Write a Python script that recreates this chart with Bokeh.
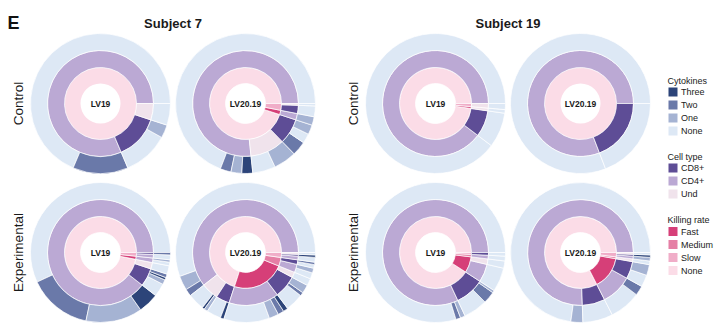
import math
from bokeh.plotting import figure
from bokeh.models import Range1d, ColumnDataSource
from bokeh.embed import file_html
from bokeh.resources import INLINE
from bokeh.core.properties import value

W, H = 720, 332
FONT = "Liberation Sans"

# ---------------- categories & colours ----------------
CYTO_LEVELS = ["Three", "Two", "One", "None"]
CYTO_COLORS = ["#2c4479", "#6a79a9", "#a5b3d3", "#dde8f5"]
CELL_LEVELS = ["CD8+", "CD4+", "Und"]
CELL_COLORS = ["#5e4d96", "#bba9d4", "#f0e3ec"]
KILL_LEVELS = ["Fast", "Medium", "Slow", "None"]
KILL_COLORS = ["#d63f78", "#e57fa5", "#f0adc8", "#fbdce7"]

SUBJECTS = ["Subject 7", "Subject 19"]
CONDITIONS = ["Control", "Experimental"]
VECTORS = ["LV19", "LV20.19"]

# ---------------- data: (killing rate, cell type, cytokines, share) ----------------
S7_CTRL_LV19 = [
    ("None", "CD4+", "None", 247), ("None", "CD4+", "Two", 46),
    ("None", "CD8+", "None", 38), ("None", "CD8+", "One", 11),
    ("None", "Und", "None", 18),
]
S7_CTRL_LV2019 = [
    ("None", "CD4+", "None", 249), ("None", "CD4+", "Two", 9),
    ("None", "CD4+", "One", 9), ("None", "CD4+", "Three", 9),
    ("None", "Und", "None", 19), ("None", "Und", "One", 19),
    ("None", "CD8+", "Two", 12), ("None", "CD8+", "None", 8),
    ("None", "CD8+", "One", 8), ("Fast", "CD4+", "One", 7),
    ("Slow", "CD8+", "None", 9), ("Slow", "Und", "None", 2),
]
S7_EXP_LV19 = [
    ("None", "CD4+", "None", 205), ("None", "CD4+", "Two", 53),
    ("None", "CD4+", "One", 47), ("None", "CD4+", "Three", 17),
    ("None", "CD8+", "None", 11), ("None", "CD8+", "One", 4),
    ("None", "CD8+", "Three", 2), ("None", "CD8+", "Two", 3),
    ("None", "Und", "None", 7), ("Fast", "CD4+", "None", 3),
    ("Fast", "CD4+", "One", 2), ("Slow", "CD4+", "None", 4),
    ("Slow", "CD8+", "Two", 2),
]
S7_EXP_LV2019 = [
    ("None", "CD4+", "None", 200), ("None", "CD4+", "One", 12),
    ("None", "CD4+", "Two", 6), ("None", "Und", "None", 14),
    ("None", "Und", "Three", 2), ("None", "Und", "One", 3),
    ("None", "CD8+", "None", 12), ("None", "CD8+", "Three", 3),
    ("Fast", "CD4+", "None", 38), ("Fast", "CD4+", "One", 8),
    ("Fast", "CD4+", "Two", 5), ("Fast", "CD4+", "Three", 4),
    ("Fast", "CD8+", "None", 15), ("Fast", "CD8+", "Two", 3),
    ("Fast", "CD8+", "One", 7), ("Fast", "Und", "None", 6),
    ("Medium", "CD4+", "None", 5), ("Medium", "CD4+", "One", 4),
    ("Medium", "CD8+", "None", 3), ("Medium", "CD8+", "Two", 2),
    ("Slow", "CD4+", "None", 4), ("Slow", "CD8+", "Three", 2),
    ("Slow", "Und", "None", 2),
]
S19_CTRL_LV19 = [
    ("None", "CD4+", "None", 323), ("None", "CD8+", "None", 29),
    ("Fast", "Und", "None", 3), ("Slow", "Und", "None", 5),
]
S19_CTRL_LV2019 = [
    ("None", "CD4+", "None", 291), ("None", "CD8+", "None", 69),
]
S19_EXP_LV19 = [
    ("None", "CD4+", "None", 287), ("None", "CD4+", "Two", 4),
    ("None", "CD4+", "One", 4), ("None", "CD8+", "None", 20),
    ("None", "CD8+", "Two", 10), ("None", "CD8+", "One", 2),
    ("Fast", "CD4+", "None", 20), ("Fast", "Und", "None", 6),
    ("Medium", "CD4+", "None", 4), ("Slow", "CD8+", "None", 3),
]
S19_EXP_LV2019 = [
    ("None", "CD4+", "None", 262), ("None", "CD4+", "One", 10),
    ("None", "CD8+", "None", 25), ("Fast", "CD4+", "None", 26),
    ("Fast", "CD4+", "Two", 8), ("Fast", "CD8+", "None", 10),
    ("Fast", "CD8+", "One", 9), ("Medium", "Und", "None", 3),
    ("Slow", "CD4+", "One", 3), ("Slow", "CD8+", "Three", 2),
    ("Slow", "Und", "None", 2),
]

PANELS = {
    ("Subject 7", "Control", "LV19"): S7_CTRL_LV19,
    ("Subject 7", "Control", "LV20.19"): S7_CTRL_LV2019,
    ("Subject 7", "Experimental", "LV19"): S7_EXP_LV19,
    ("Subject 7", "Experimental", "LV20.19"): S7_EXP_LV2019,
    ("Subject 19", "Control", "LV19"): S19_CTRL_LV19,
    ("Subject 19", "Control", "LV20.19"): S19_CTRL_LV2019,
    ("Subject 19", "Experimental", "LV19"): S19_EXP_LV19,
    ("Subject 19", "Experimental", "LV20.19"): S19_EXP_LV2019,
}

# ---------------- layout ----------------
SUBJ_X0 = {"Subject 7": 100, "Subject 19": 435}
PIE_DX = 145
ROW_Y = {"Control": H - 103, "Experimental": H - 252}
RADII = [20, 36, 53, 70]

kill_col = dict(zip(KILL_LEVELS, KILL_COLORS))
cell_col = dict(zip(CELL_LEVELS, CELL_COLORS))
cyto_col = dict(zip(CYTO_LEVELS, CYTO_COLORS))

p = figure(width=W, height=H, x_range=Range1d(0, W), y_range=Range1d(0, H),
           output_backend="svg", toolbar_location=None, min_border=0,
           x_axis_type=None, y_axis_type=None)
p.grid.visible = False
p.outline_line_color = None
p.background_fill_color = "white"


def grouped(leaves, spans, keyfn):
    out = []
    for lf, (a0, a1) in zip(leaves, spans):
        k = keyfn(lf)
        if out and out[-1][0] == k:
            out[-1][2] = a1
        else:
            out.append([k, a0, a1])
    return out


def draw_pie(cx, cy, leaves):
    total = float(sum(l[3] for l in leaves))
    spans, a = [], 0.0
    for lf in leaves:
        a0 = a
        a += lf[3] / total * 2 * math.pi
        spans.append((a0, a))
    rings = [
        (grouped(leaves, spans, lambda l: l[0]), lambda k: kill_col[k]),
        (grouped(leaves, spans, lambda l: (l[0], l[1])), lambda k: cell_col[k[1]]),
        (grouped(leaves, spans, lambda l: (l[0], l[1], l[2])), lambda k: cyto_col[k[2]]),
    ]
    for i, (segs, colfn) in enumerate(rings):
        r0, r1 = RADII[i], RADII[i + 1]
        data = dict(x=[], y=[], s=[], e=[], c=[])
        for k, a0, a1 in segs:
            if a1 - a0 > 2 * math.pi - 1e-3:
                p.annulus(x=[cx], y=[cy], inner_radius=r0, outer_radius=r1,
                          fill_color=colfn(k), line_color=None)
            else:
                data["x"].append(cx); data["y"].append(cy)
                data["s"].append(a0); data["e"].append(a1)
                data["c"].append(colfn(k))
        if data["x"]:
            p.annular_wedge(x="x", y="y", inner_radius=r0, outer_radius=r1,
                            start_angle="s", end_angle="e", fill_color="c",
                            line_color="white", line_width=0.7,
                            source=ColumnDataSource(data))


for subj in SUBJECTS:
    for cond in CONDITIONS:
        for j, vec in enumerate(VECTORS):
            cx = SUBJ_X0[subj] + j * PIE_DX
            cy = ROW_Y[cond]
            draw_pie(cx, cy, PANELS[(subj, cond, vec)])
            p.text(x=[cx], y=[cy], text=[vec], text_font=value(FONT),
                   text_font_size="8.5px", text_font_style="bold",
                   text_align="center", text_baseline="middle", text_color="#1a1a1a")

# titles
for subj in SUBJECTS:
    p.text(x=[SUBJ_X0[subj] + PIE_DX / 2], y=[H - 23], text=[subj], text_font=value(FONT),
           text_font_size="13px", text_font_style="bold", text_align="center",
           text_baseline="middle", text_color="#1a1a1a")
    for cond in CONDITIONS:
        p.text(x=[SUBJ_X0[subj] - 82.5], y=[ROW_Y[cond]], text=[cond], angle=math.pi / 2,
               text_font=value(FONT), text_font_size="13.5px", text_align="center",
               text_baseline="middle", text_color="#1a1a1a")

p.text(x=[7], y=[H - 22], text=["E"], text_font=value(FONT), text_font_size="18px",
       text_font_style="bold", text_align="left", text_baseline="middle", text_color="#111111")

# legend
LEG_X = 667
LEG_GROUPS = [
    ("Cytokines", CYTO_LEVELS, CYTO_COLORS, 80),
    ("Cell type", CELL_LEVELS, CELL_COLORS, 156),
    ("Killing rate", KILL_LEVELS, KILL_COLORS, 219.5),
]
for title, levels, colors, ty in LEG_GROUPS:
    p.text(x=[LEG_X], y=[H - ty], text=[title], text_font=value(FONT), text_font_size="9px",
           text_align="left", text_baseline="middle", text_color="#222222")
    ys = [H - (ty + 11.5 + 13 * i) for i in range(len(levels))]
    p.rect(x=[LEG_X + 5.5] * len(levels), y=ys, width=9, height=9,
           fill_color=colors, line_color=None)
    p.text(x=[LEG_X + 13.5] * len(levels), y=ys, text=levels, text_font=value(FONT),
           text_font_size="9px", text_align="left", text_baseline="middle", text_color="#222222")

open("out.html", "w").write(file_html(p, INLINE))
